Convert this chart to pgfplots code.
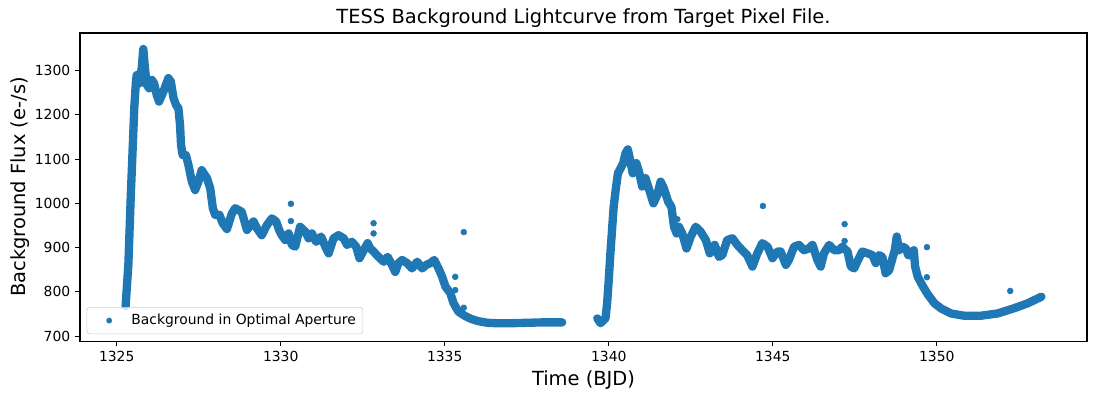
\documentclass[border=0pt]{standalone}
\usepackage{fontspec}
\setmainfont{DejaVu Sans}
\usepackage{pgfplots}
\pgfplotsset{compat=1.18}
\usepackage{pgfplotstable}
\definecolor{c0}{HTML}{1F77B4}
\definecolor{legframe}{HTML}{CCCCCC}

\pgfplotstableread{
x y
1325.27 768
1325.354 861
1325.427 1015
1325.488 1128
1325.537 1219
1325.589 1279
1325.61 1290
1325.69 1271
1325.76 1305
1325.81 1349
1325.86 1305
1325.915 1268
1325.99 1260
1326.07 1279
1326.14 1271
1326.22 1245
1326.29 1230
1326.42 1252
1326.575 1283
1326.65 1275
1326.73 1238
1326.81 1222
1326.88 1215
1326.93 1177
1326.96 1132
1327.01 1109
1327.11 1109
1327.185 1087
1327.29 1049
1327.39 1030
1327.49 1049
1327.59 1075
1327.75 1057
1327.85 1034
1327.93 989
1328.00 974
1328.13 974
1328.23 955
1328.36 942
1328.51 977
1328.61 989
1328.71 985
1328.81 981
1328.97 940
1329.17 959
1329.27 944
1329.42 928
1329.58 951
1329.73 966
1329.86 959
1329.95 940
1330.03 928
1330.14 917
1330.24 932
1330.34 906
1330.44 902
1330.59 947
1330.75 936
1330.85 921
1330.95 932
1331.08 913
1331.23 925
1331.36 902
1331.46 887
1331.61 921
1331.76 928
1331.92 921
1332.02 906
1332.17 913
1332.30 902
1332.40 876
1332.53 894
1332.65 910
1332.73 898
1332.83 891
1332.98 879
1333.14 868
1333.26 879
1333.39 861
1333.49 845
1333.59 865
1333.70 872
1333.85 865
1334.00 853
1334.16 868
1334.31 853
1334.44 861
1334.56 865
1334.68 872
1334.81 853
1334.92 834
1335.02 812
1335.17 797
1335.27 774
1335.42 755
1335.63 745
1335.80 739
1336.00 734
1336.30 730
1336.60 729
1337.00 729
1337.50 730
1338.00 731
1338.30 731
1338.58 731
}\segA

\pgfplotstableread{
x y
1339.65 740
1339.75 729
1339.90 740
1339.95 774
1340.00 827
1340.05 887
1340.10 940
1340.15 992
1340.21 1030
1340.28 1068
1340.36 1079
1340.44 1091
1340.51 1113
1340.58 1122
1340.64 1102
1340.73 1068
1340.84 1091
1340.92 1072
1341.02 1038
1341.12 1057
1341.22 1034
1341.36 1000
1341.48 1019
1341.58 1049
1341.68 1034
1341.81 1004
1341.91 992
1341.99 947
1342.07 932
1342.14 947
1342.24 932
1342.37 898
1342.50 925
1342.65 947
1342.80 936
1342.96 917
1343.08 887
1343.23 906
1343.36 879
1343.46 883
1343.61 917
1343.77 921
1343.92 906
1344.07 894
1344.22 883
1344.38 857
1344.53 887
1344.68 910
1344.84 902
1344.99 876
1345.14 891
1345.24 891
1345.40 861
1345.49 872
1345.65 902
1345.80 906
1345.95 894
1346.10 898
1346.21 906
1346.36 872
1346.46 857
1346.56 887
1346.72 906
1346.87 894
1347.02 894
1347.12 902
1347.28 891
1347.38 857
1347.48 853
1347.60 872
1347.73 891
1347.89 887
1348.04 883
1348.14 865
1348.24 883
1348.34 879
1348.44 842
1348.55 849
1348.65 876
1348.72 894
1348.78 925
1348.85 894
1348.95 902
1349.06 898
1349.13 883
1349.21 883
1349.30 894
1349.34 857
1349.42 834
1349.58 812
1349.72 795
1349.93 774
1350.14 762
1350.44 751
1350.83 746
1351.34 746
1351.85 751
1352.36 763
1352.77 774
1353.19 789
}\segB

\begin{document}
\begin{tikzpicture}
\begin{axis}[
  scale only axis,
  width=725pt, height=221.8pt,
  xmin=1323.88, xmax=1354.58,
  ymin=688.7, ymax=1385,
  xtick={1325,1330,1335,1340,1345,1350},
  ytick={700,800,900,1000,1100,1200,1300},
  xtick pos=lower, ytick pos=left,
  tick align=outside,
  major tick length=3.5pt,
  tick style={line width=0.8pt, black},
  axis line style={line width=0.8pt},
  /pgf/number format/assume math mode=true,
  /pgf/number format/1000 sep={},
  tick label style={font=\fontsize{10}{12}\selectfont},
  title={TESS Background Lightcurve from Target Pixel File.},
  title style={font=\fontsize{14}{17}\selectfont, at={(axis description cs:0.5,1)}, anchor=base, inner sep=0pt, yshift=1pt},
  xlabel={Time (BJD)},
  ylabel={Background Flux (e-/s)},
  xlabel style={font=\fontsize{14}{17}\selectfont, at={(axis description cs:0.5,0)}, anchor=north, inner sep=0pt, yshift=-21pt},
  ylabel style={font=\fontsize{14}{17}\selectfont, at={(axis description cs:-0.0500,0.5)}, anchor=south, inner sep=0pt},
  legend style={at={(axis description cs:0,0)}, anchor=south west, xshift=4.8pt, yshift=5pt,
    draw=legframe, rounded corners=2pt, fill=white, fill opacity=0.8, text opacity=1,
    font=\fontsize{10}{12}\selectfont, inner xsep=3pt, inner ysep=3pt},
  legend image code/.code={\fill[c0, draw=none, line width=0pt, fill opacity=1] (0pt,0pt) circle (2.1pt); \path[draw=none, fill=none] (-13pt,0pt) -- (14pt,0pt);},
]
\addplot[c0, line width=6pt, line join=round, line cap=round] table {\segA};
\addlegendentry{Background in Optimal Aperture}
\addplot[c0, line width=6pt, line join=round, line cap=round, forget plot] table {\segB};
\addplot[c0, only marks, mark=*, mark size=2.1pt, forget plot] coordinates {
(1330.31,999) (1330.31,960) (1332.83,955) (1332.83,932) (1335.58,935)
(1335.32,834) (1335.32,804) (1335.58,764) (1342.09,964) (1344.70,994)
(1347.19,953) (1347.19,915) (1349.70,901) (1349.70,833) (1352.24,802)
};
\end{axis}
\pgfresetboundingbox
\path (current axis.south west) ++(-57.6pt,-41.76pt) rectangle ([shift={(7.2pt,23.76pt)}]current axis.north east);
\end{tikzpicture}
\end{document}
